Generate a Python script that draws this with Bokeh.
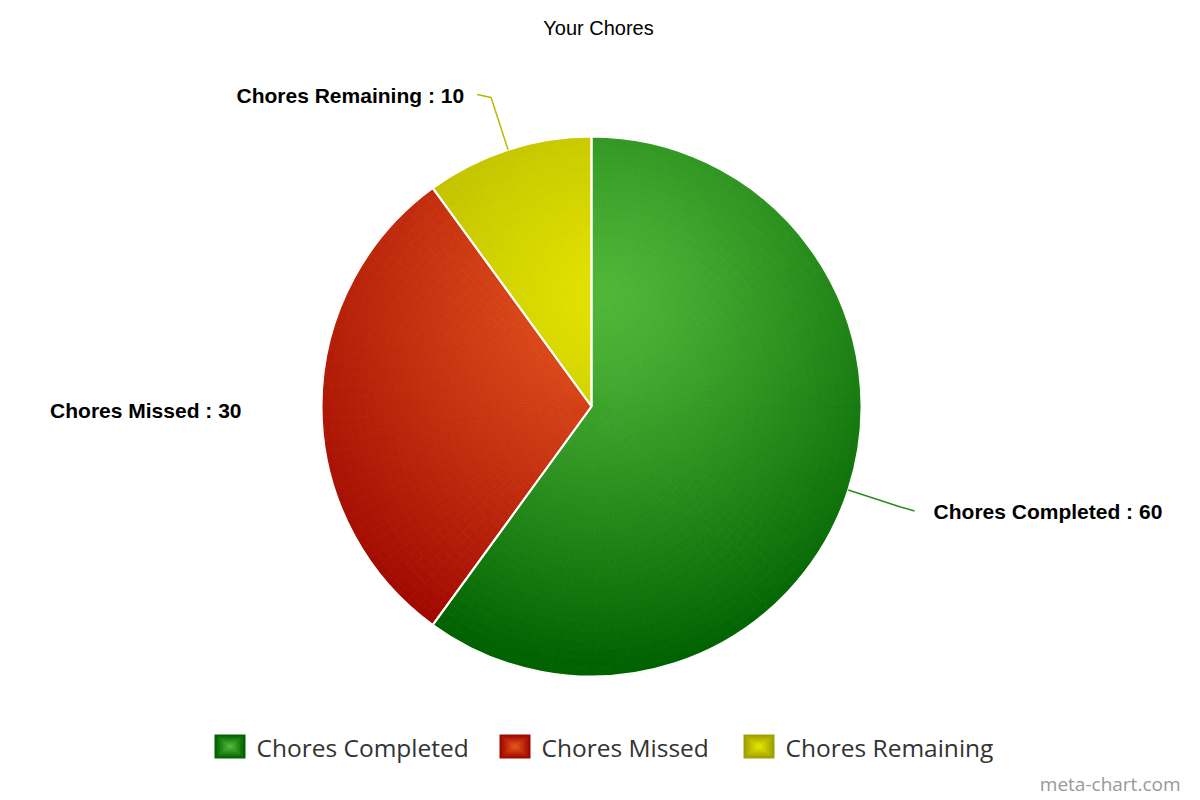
import numpy as np
from bokeh.plotting import figure
from bokeh.models import Range1d, ColumnDataSource
from bokeh.core.properties import value
from bokeh.embed import file_html
from bokeh.resources import INLINE

# ---------------- data ----------------
title = "Your Chores"
categories = ["Chores Completed", "Chores Missed", "Chores Remaining"]
values = [60, 30, 10]
bright = ["#50b638", "#e4521c", "#e2e200"]
dark = ["#006200", "#a00800", "#a0a000"]
connector_colors = ["#2a8c1c", None, "#b8b800"]
watermark = "meta-chart.com"

# ---------------- layout ----------------
W, H = 1200, 800
CX, CY, R = 591, H - 406, 270
GX, GY = 605, H - 295          # gradient focus
GD = 370.0

def hex2rgb(h):
    h = h.lstrip("#")
    return np.array([int(h[i:i + 2], 16) for i in (0, 2, 4)], dtype=float)

def lerp(c0, c1, t):
    a, b = hex2rgb(c0), hex2rgb(c1)
    c = a + (b - a) * t
    return "#%02x%02x%02x" % tuple(int(round(v)) for v in c)

p = figure(width=W, height=H, x_range=Range1d(0, W), y_range=Range1d(0, H),
           output_backend="svg", toolbar_location=None, min_border=0,
           x_axis_location=None, y_axis_location=None)
p.grid.visible = False
p.outline_line_color = None
p.background_fill_color = "white"
p.border_fill_color = "white"

total = float(sum(values))
cum = np.concatenate([[0.0], np.cumsum(values) / total])

# ---- gradient-filled slices (built from the values) ----
NR = 30
cells = dict(inner=[], outer=[], start=[], end=[], color=[])
for i in range(len(values)):
    f0, f1 = cum[i], cum[i + 1]
    nseg = max(2, int(np.ceil((f1 - f0) * 360 / 2.5)))
    fs = np.linspace(f0, f1, nseg + 1)
    for j in range(NR):
        r0, r1 = R * j / NR, R * (j + 1) / NR
        rm = (r0 + r1) / 2
        for k in range(nseg):
            fm = (fs[k] + fs[k + 1]) / 2
            th = np.pi / 2 - 2 * np.pi * fm
            px, py = CX + rm * np.cos(th), CY + rm * np.sin(th)
            d = np.hypot(px - GX, py - GY)
            t = min(d / GD, 1.0) ** 1.2
            cells["inner"].append(r0)
            cells["outer"].append(r1)
            cells["start"].append(np.pi / 2 - 2 * np.pi * fs[k + 1])
            cells["end"].append(np.pi / 2 - 2 * np.pi * fs[k])
            cells["color"].append(lerp(bright[i], dark[i], t))

src = ColumnDataSource(cells)
p.annular_wedge(x=CX, y=CY, inner_radius="inner", outer_radius="outer",
                start_angle="start", end_angle="end", direction="anticlock",
                fill_color="color", line_color="color", line_width=0.8, source=src)

starts = [np.pi / 2 - 2 * np.pi * cum[i + 1] for i in range(len(values))]
ends = [np.pi / 2 - 2 * np.pi * cum[i] for i in range(len(values))]
p.wedge(x=CX, y=CY, radius=R, start_angle=starts, end_angle=ends,
        direction="anticlock", fill_color=None, line_color="white", line_width=2)

# ---- data labels with connectors ----
for i, (cat, v) in enumerate(zip(categories, values)):
    fm = (cum[i] + cum[i + 1]) / 2
    th = np.pi / 2 - 2 * np.pi * fm
    dx, dy = np.cos(th), np.sin(th)
    side = 1 if dx >= 0 else -1
    x1, y1 = CX + R * dx, CY + R * dy
    x2, y2 = CX + (R + 55) * dx, CY + (R + 55) * dy
    x3, y3 = x2 + side * 14, y2
    if dy < -0.1:
        y3 = y2 - 4
    elif dy > 0.1:
        y3 = y2 + 3
    if connector_colors[i]:
        p.line([x1, x2, x3], [y1, y2, y3], line_color=connector_colors[i], line_width=1.5)
    tx = x3 + side * (19 if side > 0 else 13)
    if abs(dy) < 0.1:
        tx = x2 - 25 if side < 0 else x2 + 25
        y3 = y2 - 3
    p.text(x=[tx], y=[y3 - 1], text=["%s : %d" % (cat, v)],
           text_font=value("Liberation Sans"), text_font_style="bold",
           text_font_size="21px", text_color="#000000",
           text_align="left" if side > 0 else "right", text_baseline="middle")

# ---- title ----
p.text(x=[598], y=[H - 27], text=[title], text_font=value("Liberation Sans"),
       text_font_size="20px", text_color="#000000",
       text_align="center", text_baseline="middle")

# ---- legend ----
leg_x = [214, 499, 743]
leg_y = H - 746
for i, cat in enumerate(categories):
    nl = 6
    for k in range(nl):
        s = 1 - k / nl
        p.rect(x=[leg_x[i] + 15.5], y=[leg_y], width=31 * s, height=24 * s,
               fill_color=lerp(dark[i], bright[i], k / (nl - 1)),
               line_color=None)
    p.text(x=[leg_x[i] + 42], y=[leg_y - 1], text=[cat],
           text_font=value("Open Sans"), text_font_size="24.5px",
           text_color="#333333", text_align="left", text_baseline="middle")

# ---- watermark ----
p.text(x=[1180], y=[H - 783], text=[watermark], text_font=value("Open Sans"),
       text_font_size="19px", text_color="#999999",
       text_align="right", text_baseline="middle")

open("out.html", "w").write(file_html(p, INLINE))
